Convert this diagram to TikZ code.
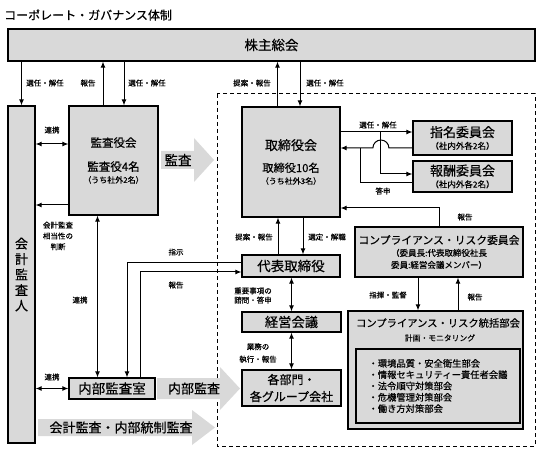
\documentclass[tikz,border=0pt]{standalone}
\usepackage{fontspec}
\setmainfont{Noto Sans CJK JP}[FakeBold=0.4]
\usetikzlibrary{positioning}
\usetikzlibrary{arrows.meta}
\definecolor{boxgray}{HTML}{D9D9D9}

\begin{document}
\begin{tikzpicture}[x=1pt,y=-1pt,>={Latex[length=6pt,width=5pt]},
  box/.style={draw,line width=1.2pt,fill=boxgray,inner sep=0pt,align=center},
  conn/.style={line width=1pt},
  lbl/.style={inner sep=0pt,align=center,font=\fontsize{7.5}{10}\selectfont},
  fat/.style={fill=boxgray}]

\useasboundingbox (0,0) rectangle (541,457);

\node[anchor=west,inner sep=0pt,font=\fontsize{12}{14}\selectfont] (title) at (4,15) {コーポレート・ガバナンス体制};

% frame of the executing side
\draw[line width=1pt,dash pattern=on 4pt off 3pt] (217,94) rectangle (535,446);

% boxes
\node[box,minimum width=527pt,minimum height=32pt,font=\fontsize{13.5}{16}\selectfont] (kabunushi) at (271.5,45) {株主総会};

\node[box,minimum width=27pt,minimum height=337pt,font=\fontsize{13}{15.5}\selectfont] (kaikei) at (21.5,274.5) {会\\計\\監\\査\\人};

\node[box,minimum width=89pt,minimum height=109pt] (kansayaku) at (113.5,160.5)
  {\fontsize{11.5}{14}\selectfont 監査役会\\[12pt]\fontsize{11.5}{12}\selectfont 監査役4名\\\fontsize{8}{11}\selectfont （うち社外2名）};

\node[box,minimum width=98pt,minimum height=110pt] (torishimari) at (291,162)
  {\fontsize{13}{15}\selectfont 取締役会\\[10pt]\fontsize{11.2}{12}\selectfont 取締役10名\\\fontsize{8}{10}\selectfont （うち社外3名）};

\node[box,minimum width=99pt,minimum height=34pt] (shimei) at (462.5,138)
  {\fontsize{13}{14}\selectfont 指名委員会\\\fontsize{8.5}{12}\selectfont （社内外各2名）};

\node[box,minimum width=99pt,minimum height=31pt] (houshu) at (462.5,176.5)
  {\fontsize{13}{14}\selectfont 報酬委員会\\\fontsize{8.5}{12}\selectfont （社内外各2名）};

\node[box,minimum width=168pt,minimum height=50pt] (crcomm) at (439,252)
  {\fontsize{10.8}{12}\selectfont コンプライアンス・リスク委員会\\\fontsize{8.5}{10}\selectfont （委員長:代表取締役社長\\\fontsize{8.5}{10}\selectfont 委員:経営会議メンバー）};

\node[box,minimum width=98pt,minimum height=22pt,font=\fontsize{13.5}{15}\selectfont] (daihyo) at (291,266) {代表取締役};

\node[box,minimum width=99pt,minimum height=20pt,font=\fontsize{13.3}{15}\selectfont] (keiei) at (291.5,322) {経営会議};

\node[box,minimum width=99pt,minimum height=36pt,font=\fontsize{12}{17}\selectfont] (kakubu) at (291.5,388) {各部門・\\各グループ会社};

\node[box,minimum width=175pt,minimum height=118pt] (crdept) at (435.5,370) {};
\node[inner sep=0pt,font=\fontsize{10.3}{12}\selectfont] (crdepttitle) at (438,323) {コンプライアンス・リスク統括部会};
\node[inner sep=0pt,font=\fontsize{7.8}{9}\selectfont] (crdeptsub) at (440,338) {計画・モニタリング};
\node[box,minimum width=164pt,minimum height=74pt,align=left,font=\fontsize{9.3}{11.3}\selectfont] (bukai) at (438,386)
  {・環境品質・安全衛生部会\\・情報セキュリティー責任者会議\\・法令順守対策部会\\・危機管理対策部会\\・働き方対策部会};

\node[box,minimum width=86pt,minimum height=21pt,font=\fontsize{13.5}{15}\selectfont] (naibu) at (112,388.5) {内部監査室};

% wide arrows
\fill[fat] (161,151) -- (194,151) -- (194,138) -- (214,160) -- (194,182) -- (194,169) -- (161,169) -- cycle;
\node[inner sep=0pt,font=\fontsize{13.5}{15}\selectfont] (kansatxt) at (178,160) {監査};

\fill[fat] (157,378) -- (220,378) -- (220,367) -- (240,388.5) -- (220,410) -- (220,399) -- (157,399) -- cycle;
\node[inner sep=0pt,font=\fontsize{13}{15}\selectfont] (naibutxt) at (194,388.5) {内部監査};

\fill[fat] (38,419) -- (192,419) -- (192,410) -- (215,427.5) -- (192,445) -- (192,436) -- (38,436) -- cycle;
\node[inner sep=0pt,font=\fontsize{13}{15}\selectfont] (kaikeitxt) at (121,427.5) {会計監査・内部統制監査};

% shareholders
\draw[conn,->] (kabunushi.south -| kaikei.north) -- (kaikei.north);
\draw[conn,->] ([xshift=-10.5pt]kansayaku.north) -- ([xshift=-10.5pt]kansayaku.north |- kabunushi.south);
\draw[conn,->] ([xshift=10.5pt]kansayaku.north |- kabunushi.south) -- ([xshift=10.5pt]kansayaku.north);
\draw[conn,->] ([xshift=-13.5pt]torishimari.north) -- ([xshift=-13.5pt]torishimari.north |- kabunushi.south);
\draw[conn,->] ([xshift=9pt]torishimari.north |- kabunushi.south) -- ([xshift=9pt]torishimari.north);

\node[lbl] (l1) at (45,83) {選任・解任};
\node[lbl] (l2) at (88,83) {報告};
\node[lbl] (l3) at (147,83) {選任・解任};
\node[lbl] (l4) at (252,83) {提案・報告};
\node[lbl] (l5) at (325,83) {選任・解任};

% auditors
\draw[conn,<->] ([yshift=16.5pt]kansayaku.west) -- ([yshift=16.5pt]kansayaku.west -| kaikei.east);
\draw[conn,->] ([yshift=-44.5pt]kansayaku.west) -- ([yshift=-44.5pt]kansayaku.west -| kaikei.east);
\draw[conn,<->] ([xshift=-16pt]kansayaku.south) -- ([xshift=-16pt]kansayaku.south |- naibu.north);
\draw[conn,<->] (naibu.west) -- (naibu.west -| kaikei.east);
\draw[conn,->] ([yshift=3pt]daihyo.west) -| ([xshift=15pt]naibu.north);
\draw[conn,->] ([xshift=28pt]naibu.north) |- ([yshift=-6pt]daihyo.west);

\node[lbl] (l6) at (52,130) {連携};
\node[lbl,font=\fontsize{7.5}{10.8}\selectfont] (l7) at (58,236) {会計監査\\相当性の\\判断};
\node[lbl] (l8) at (80,300) {連携};
\node[lbl] (l9) at (52,377) {連携};
\node[lbl] (l10) at (176,252) {指示};
\node[lbl] (l11) at (176,285) {報告};

% board and committees
\draw[conn,->] ([yshift=6pt]shimei.west -| torishimari.east) -- ([yshift=6pt]shimei.west);
\coordinate (selbr) at ([xshift=-32pt,yshift=6pt]shimei.west);
\draw[conn,->] (selbr) |- ([yshift=2.5pt]houshu.west);
\draw[conn,->] ([yshift=-10pt]shimei.west) -- ++(-23.5,0) arc[start angle=0,end angle=180,radius=8pt]
  -- ([yshift=-10pt]shimei.west -| torishimari.east);
\draw[conn] ([yshift=-6.5pt]houshu.west) -| ([xshift=-52pt,yshift=-10pt]shimei.west);
\draw[conn,->] (crcomm.north) |- ([yshift=-46pt]torishimari.east);

\node[lbl] (l12) at (378,125) {選任・解任};
\node[lbl] (l13) at (383,191) {答申};
\node[lbl] (l14) at (465,217) {報告};

% executives
\draw[conn,->] ([xshift=-13pt]daihyo.north) -- ([xshift=-13pt]daihyo.north |- torishimari.south);
\draw[conn,->] ([xshift=12pt]daihyo.north |- torishimari.south) -- ([xshift=12pt]daihyo.north);
\draw[conn,<->] (daihyo.south -| keiei.north) -- (keiei.north);
\draw[conn,<->] (keiei.south) -- (kakubu.north);
\draw[conn,->] ([xshift=-21pt]crcomm.south) -- ([xshift=-21pt]crcomm.south |- crdept.north);
\draw[conn,->] ([xshift=19pt]crcomm.south |- crdept.north) -- ([xshift=19pt]crcomm.south);

\node[lbl] (l15) at (254,237) {提案・報告};
\node[lbl] (l16) at (327,237) {選定・解職};
\node[lbl,font=\fontsize{7.5}{9.3}\selectfont] (l17) at (253,295.5) {重要事項の\\諮問・答申};
\node[lbl,font=\fontsize{7.5}{12.5}\selectfont] (l18) at (258,353) {業務の\\執行・報告};
\node[lbl] (l19) at (388,295) {指揮・監督};
\node[lbl] (l20) at (475,297) {報告};

\end{tikzpicture}
\end{document}
